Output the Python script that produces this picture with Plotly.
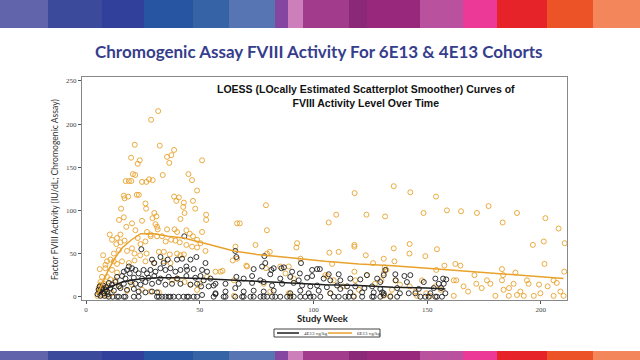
import plotly.graph_objects as go

# ---------------- data ----------------
orange_pts = [
    (31.7,215),(28.6,205),(32.4,175),(38.7,170),(37.5,164),(35.6,162),(36.6,155),(21.4,176),(19.8,161),(23.6,158),
    (22.7,154),(51,158),(20.6,142),(21.6,141),(33.7,141),(17.4,134),(18.8,134),(19.9,134),(24.6,133),(26.5,133),
    (27.7,136),(29.3,135),(45,142),(46.6,135),(16.6,117),(16.9,114),(18.5,116),(22.3,118),(23.2,118),(26.1,108),
    (26.4,102),(15.4,102),(38.7,116),(40.8,115),(39.7,111),(42.7,104),(43,109),(47,111),(48.8,123),(48,102),
    (52.8,95),(52.8,89),(43.3,97),(30,97),(30.9,93),(29.2,91),(30.5,84),(31.2,81),(41.5,90),(16.6,92),
    (14.5,89),(17.7,81),(20.2,85),(24.6,88),(21.7,77),(26.8,75),(28.4,72),(31.5,78),(35.6,78),(38.9,78),
    (40,75),(44.1,77),(45.6,73),(47,70),(48.8,66),(50.3,62),(51,75),(10.4,72),(11.4,66),(13.6,68),
    (15.1,72),(15.1,63),(13.3,61),(16.9,65),(22.7,68),(23.9,61),(26.1,64),(28.4,70),(31.2,70),(33.4,70),
    (35,64),(37.4,66),(39.3,65),(41.2,63),(44.1,60),(46.6,58),(48.8,57),(52.5,53),(7.5,48),(12.2,50),
    (14.4,54),(18,53),(20.2,56),(21.3,50),(23.8,48),(26.6,50),(32,52),(34.2,52),(36.8,49),(40,50),
    (41.5,48),(43,49),(9.2,41),(10.7,43),(12.2,41),(8.5,37),(13.6,38),(15.8,41),(18.8,39),(21.3,42),
    (26.1,41),(29.8,39),(34.2,41),(37.1,39),(6,32),(8.5,33),(11.4,31),(13.6,28),(7,23),(9.2,23),
    (10.7,20),(12.9,19),(6.3,17),(7.8,15),(6,12),(8.5,10),(10.7,9),(5.6,5),(7,2),(9.2,1),
    (11.4,4),(14.8,12),(18,7),(20.2,14),(24.6,8),(28.3,6),(32,5),(37.8,19),(40.3,21),(43.3,17),
    (45.9,14),(48.8,8),(50,15),(53.2,23),(56.9,29),(59.1,29),(65.7,58),(66.4,44),(70.8,35),(66.4,85),
    (67.6,85),(74.5,60),(65,19),(5.5,10),(6.5,14),(8,6),(9.5,13),(5,1),(6,7),(60,30),(64.5,42),(70.5,36),
    (79.1,106),(79.5,77),(79.6,50),(80.8,52),(79.1,33),(85.4,35),(89.1,35),(92.8,62),(92.5,57),(94.3,44),
    (87.7,27),(91.3,21),(78.1,15),(81,6),(89.1,4),(106.7,86),(110,95),(107,51),(111.1,52),(108.2,38),
    (105.2,25),(106.2,24),(108.9,19),(107.4,4),(118.1,120),(118,60),(118,58),(123.3,95),(123,48),(126.2,39),
    (118,29),(118.4,19),(123.5,25),(131.5,93),(130.9,44),(131.3,34),(132.1,31),(130.9,27),(129.9,19),(130.9,1),
    (135.3,128),(135.3,56),(135.6,41),(136,19),(134.5,8),(142.6,121),(142.3,61),(142.2,50),(142.3,12),(148.4,97),
    (149.2,47),(147.7,19),(149.6,4),(153.9,116),(154.3,55),(154,31),(153.6,12),(158.7,100),(157.6,36),(161.7,19),
    (162.8,19),(162.4,38),(164.6,36),(164.9,99),(166,12),(171.9,97),(170.8,25),(171.6,15),(176.3,19),(177,105),
    (177.8,15),(183.2,86),(182.9,32),(183.4,25),(182.9,19),(183.6,8),(189.5,97),(188.8,28),(188,15),(189.5,2),
    (193.9,19),(194.6,15),(196.5,60),(199.2,14),(199.8,4),(201.3,64),(201.6,38),(202,91),(205.6,19),(207.8,79),
    (208.6,6),(210.5,62),(210.3,29),
    (65,1),(89.8,1),(117.7,1),(133.8,1),(145.5,1),(151.4,1),(161.7,1),(180,1),(185.9,1),(192.5,1),(196.9,1),
    (205.6,1),(210,1),(113,12),(120,8),(127,15),(138,14),(145,6),(156,8),(168,6),(174,10),(186,10),(191,6),
    (203,12),(207,16),
]
black_pts = [
    (24.3,55),(29,43),(30,39),(32.7,46),(34.1,39),(35.9,43),(40,43),(42.2,44),(44.1,35),(45.9,43),
    (48.5,46),(52.5,39),(43.2,70),(18.8,35),(20.2,33),(18,31),(16.6,29),(19.2,27),(21.7,31),(23.1,27),
    (25.3,31),(26.8,27),(28.3,31),(30.5,29),(32.7,33),(34.9,31),(37.1,33),(39.3,29),(41.5,31),(44.4,31),
    (47.3,32),(51,31),(53.2,29),(13.6,23),(15.8,24),(17.3,21),(21,22),(24.6,21),(27.5,22),(30,24),
    (32.7,21),(36.3,23),(40,21),(44.1,24),(48,22),(50.3,24),(51.7,19),(10,16),(11.4,14),(12.9,17),
    (14.4,12),(16.6,15),(19.5,17),(21.7,15),(23.9,14),(26.1,17),(29,15),(31.9,17),(34.9,14),(37.8,15),
    (41.5,15),(45.9,14),(48.8,15),(50.6,12),(7,10),(8.5,8),(10.7,10),(6.3,6),(7.8,4),(9.2,6),
    (12.2,7),(15.1,10),(18,8),(21,9),(23.1,6),(26.1,5),(29,6),(31.2,5),(6.3,1),(8.1,1),
    (10,0),(11.7,0),(14.4,0),(17.3,0),(21,0),(23.1,0),(32,0),(33.4,0),(34.9,0),(36.3,0),
    (38.5,0),(40.7,0),(42.9,0),(45.1,0),(47.3,0),(51,2),(56.9,4),(53.9,12),(56.9,15),
    (5,3),(5.5,8),(6,12),(7.5,13),(8.8,11),(9.5,3),
    (65.6,53),(66.1,46),(78.4,47),(78.8,39),(82.5,33),(87,34),(94.5,39),(99.4,31),(101.6,32),(102.8,32),
    (106.7,26),(111.1,26),(73.7,32),(77.4,35),(81.5,31),(85.9,33),(90.6,29),(94,27),(97.2,22),(54.7,21),
    (56.1,13),(61.3,15),(66.1,23),(69.3,21),(73,24),(76.6,19),(81,26),(85.4,21),(89.8,23),(93.5,19),
    (99.4,24),(104.5,21),(107.4,19),(111.8,19),(116.2,21),(120.6,20),(123.5,25),(128,21),(130.9,25),(131.6,31),
    (67.1,15),(73,16),(78.1,17),(81.8,13),(86.2,15),(91.3,16),(95,13),(98.6,12),(101.6,13),(105.9,11),
    (110.4,13),(114.8,12),(118.4,12),(122.4,10),(125.8,12),(129.4,9),(56.9,3),(61.3,6),(65.6,10),(69.3,6),
    (73.7,7),(78.1,6),(82.5,7),(89.8,4),(94.2,7),(97.9,4),(102.3,7),(107.4,4),(111.8,9),(116.2,5),
    (121.4,5),(126.5,5),(130.2,5),(61.3,0),(65.6,0),(69.3,0),(73.7,0),(78.1,0),(81.8,0),(85.4,0),
    (89.8,0),(94.2,0),(98.6,0),(103,0),(111.1,0),(115.5,0),(121.4,0),(126.5,0),(130.9,2),
    (129.4,17),(130.9,4),(136,26),(136.2,19),(136.8,10),(138,4),(140,24),(141.1,17),(142.6,25),(141.9,4),
    (144.8,4),(146.3,9),(148.5,17),(149.2,0),(150.7,0),(151.4,4),(153.6,0),(153.6,21),(155.1,15),(157,21),
    (157.3,15),(158,4),(158.4,20),(156.1,10),(152.9,10),
    (13.6,0),(16.6,0),(31.2,0),(37.1,0),(44.4,0),(48.8,0),(56.1,0),(60.5,0),(68.6,0),(72.3,0),
    (76.7,0),(79.6,0),(83.2,0),(88.4,0),(91.3,0),(96.4,0),(100.1,0),(108.9,0),(114,0),(117.7,0),
    (125.8,0),(129.4,0),(133.8,0),(136.8,0),(147,0),(154.3,0),(156.5,0),
]
orange_week = [p[0] for p in orange_pts]
orange_fviii = [p[1] for p in orange_pts]
black_week = [p[0] for p in black_pts]
black_fviii = [p[1] for p in black_pts]

loess_6e13_week = [5, 7, 10, 13, 16, 20, 24, 30, 36, 43, 48, 55, 65, 75, 90, 105, 120, 135, 150, 165, 180, 195, 210]
loess_6e13_fviii = [3, 15, 32, 46, 57, 66, 73, 73, 70, 68, 65, 60, 53, 49, 45, 41, 38, 36, 33, 30, 27, 24, 21]
loess_4e13_week = [5, 8, 12, 16, 20, 25, 32, 40, 50, 60, 75, 90, 105, 120, 135, 150, 158]
loess_4e13_fviii = [3, 8, 13, 17, 19, 21, 22, 22, 21, 20, 18, 16, 14, 13, 11, 10, 9]

series_names = ["4E13 vg/kg", "6E13 vg/kg"]
x_ticks = [0, 50, 100, 150, 200]
y_ticks = [0, 50, 100, 150, 200, 250]

# ---------------- styling ----------------
W, H = 640, 360
L, R, T, B = 82, 567, 77, 300
ORANGE = "#E8A22C"
BLACK = "#1e1e1e"

def px(xp):
    return (xp - L) / (R - L)

def py(yp):
    return (B - yp) / (B - T)

band_edges = [0, 48, 102, 144, 193, 229, 275, 288, 303, 349, 367, 420, 463, 497, 547, 593, 640]
band_colors = ["#6163ab", "#3c4a9b", "#31409a", "#2755a1", "#3662a6", "#5675b2", "#8446a0", "#cc7fba",
               "#a23b8c", "#8b2878", "#97287c", "#b9519f", "#ec3896", "#e62329", "#ec5428", "#f3865a"]

fig = go.Figure()
fig.add_trace(go.Scatter(x=orange_week, y=orange_fviii, mode="markers", showlegend=False,
                         marker=dict(symbol="circle-open", size=5, color=ORANGE, line=dict(width=0.9))))
fig.add_trace(go.Scatter(x=black_week, y=black_fviii, mode="markers", showlegend=False,
                         marker=dict(symbol="circle-open", size=5, color=BLACK, line=dict(width=0.9))))
fig.add_trace(go.Scatter(x=loess_4e13_week, y=loess_4e13_fviii, mode="lines", name=series_names[0],
                         showlegend=False, line=dict(color=BLACK, width=1.5)))
fig.add_trace(go.Scatter(x=loess_6e13_week, y=loess_6e13_fviii, mode="lines", name=series_names[1],
                         showlegend=False, line=dict(color=ORANGE, width=1.5)))

shapes = []
for i, c in enumerate(band_colors):
    for (y0, y1) in [(0, 28), (351, 360)]:
        shapes.append(dict(type="rect", xref="paper", yref="paper",
                           x0=px(band_edges[i]), x1=px(band_edges[i + 1]),
                           y0=py(y1), y1=py(y0), line=dict(width=0), fillcolor=c, layer="below"))

# manual legend (small boxed key below the axis title)
shapes.append(dict(type="rect", xref="paper", yref="paper", x0=px(274), x1=px(380), y0=py(337), y1=py(329),
                   line=dict(color="#444", width=1), fillcolor="white"))
leg_font = dict(family="Liberation Serif", size=5, color="#333")
annotations = []
for (x0, x1, xt), col, nm in zip([(277, 299, 302), (328, 352, 355)], [BLACK, ORANGE], series_names):
    shapes.append(dict(type="line", xref="paper", yref="paper", x0=px(x0), x1=px(x1), y0=py(333), y1=py(333),
                       line=dict(color=col, width=1.5)))
    annotations.append(dict(text=nm, x=px(xt), y=py(333), xref="paper", yref="paper", showarrow=False,
                            xanchor="left", yanchor="middle", font=leg_font))

annotations += [
    dict(text="<b>Chromogenic Assay FVIII Activity For 6E13 &amp; 4E13 Cohorts</b>", x=px(319), y=py(52),
         xref="paper", yref="paper", showarrow=False, xanchor="center", yanchor="middle",
         font=dict(family="Lato", size=17, color="#363d8c")),
    dict(text="<b>LOESS (LOcally Estimated Scatterplot Smoother) Curves of<br>FVIII Activity Level Over Time</b>",
         x=px(366), y=py(96), xref="paper", yref="paper", showarrow=False, xanchor="center", yanchor="middle",
         font=dict(family="Liberation Sans", size=10.5, color="#111")),
    dict(text="<b>Study Week</b>", x=px(323), y=py(318.5), xref="paper", yref="paper", showarrow=False,
         xanchor="center", yanchor="middle", font=dict(family="Lato", size=9.5, color="#222")),
    dict(text="Factor FVIII Activity (IU/dL; Chromogenic Assay)", x=px(55), y=py(190), xref="paper",
         yref="paper", showarrow=False, textangle=-90, xanchor="center", yanchor="middle",
         font=dict(family="Lato", size=8.6, color="#333")),
]

axis_common = dict(showgrid=False, zeroline=False, showline=True, mirror=True, linecolor="#888", linewidth=1,
                   ticks="outside", ticklen=3, tickcolor="#555", automargin=False,
                   tickfont=dict(family="Liberation Serif", size=7, color="#444"))

fig.update_layout(
    width=W, height=H, autosize=False,
    margin=dict(l=L, r=W - R, t=T, b=H - B, pad=0),
    paper_bgcolor="white", plot_bgcolor="white", showlegend=False,
    xaxis=dict(range=[-1.8, 211.5], tickvals=x_ticks, **axis_common),
    yaxis=dict(range=[-3.8, 254.5], tickvals=y_ticks, **axis_common),
    shapes=shapes, annotations=annotations,
)
fig.write_html("out.html", config={"displayModeBar": False},
               post_script="document.body.style.margin='0';document.body.style.overflow='hidden';")
